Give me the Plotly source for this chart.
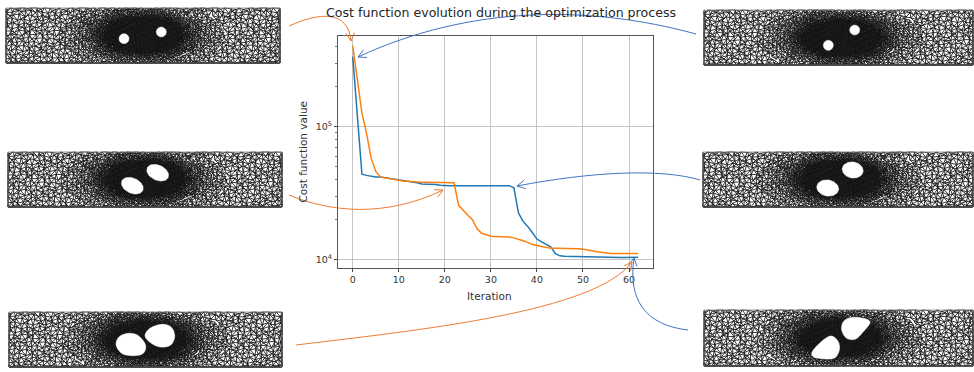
import numpy as np
import plotly.graph_objects as go

iterations = list(range(63))
blue_cost = [335000, 120000, 43900, 43000, 42200, 41900, 41900, 41400, 40900, 40500,
             40000, 39600, 38900, 38500, 37800, 37100, 37100, 36900, 36700, 36300,
             36000, 36000, 36000, 36000, 36000, 36000, 36000, 36000, 36000, 36000,
             36000, 36000, 36000, 36000, 36000, 34700, 22400, 19400, 17800, 16000,
             14300, 13600, 13100, 12500, 11100, 10700, 10630, 10600, 10600, 10600,
             10600, 10550, 10500, 10450, 10450, 10400, 10400, 10400, 10400, 10400,
             10400, 10400, 10450]
orange_cost = [405000, 226000, 126000, 89000, 57900, 46000, 41900, 41200, 40500, 40000,
               39600, 39000, 38700, 38500, 38300, 38200, 38200, 38200, 38200, 38200,
               38200, 38200, 37800, 25600, 23400, 21600, 20000, 17100, 15800, 15300,
               15000, 14950, 14900, 14900, 14800, 14600, 14300, 13900, 13500, 13000,
               12800, 12600, 12300, 12200, 12200, 12200, 12200, 12200, 12200, 12100,
               12000, 11900, 11700, 11500, 11400, 11200, 11150, 11150, 11150, 11150,
               11150, 11150, 11150]
y_tick_vals = [1e4, 1e5]
y_tick_text = ["10<sup>4</sup>", "10<sup>5</sup>"]
y_minor_vals = [2e4, 3e4, 4e4, 5e4, 6e4, 7e4, 8e4, 9e4, 2e5, 3e5, 4e5]
x_tick_vals = [0, 10, 20, 30, 40, 50, 60]

# mesh panels: left, top, right, bottom, density centre x, y
panels = [(6, 8, 280, 63, 143, 35), (8, 152, 282, 207, 145, 179), (9, 312, 282, 367, 146, 340),
          (704, 10, 973, 65, 841, 38), (703, 152, 973, 207, 840, 179), (704, 310, 973, 366, 840, 338)]
# round / elliptical holes: centre x, y, semi axes, angle in degrees
ellipse_holes = [(124, 38.7, 5, 5, 0), (161.3, 32, 5, 5, 0),
                 (132.3, 185.7, 11.5, 7.5, 25), (157.7, 172.7, 11.5, 7.5, 25),
                 (828.3, 45.3, 5, 5, 0), (854.7, 30, 5, 5, 0),
                 (827.7, 188, 11, 8, 10), (852.7, 170, 10.5, 8, 10)]
# free-form holes traced as outlines
outline_holes = [
    ([116, 119.3, 129.3, 138.3, 145.7, 143.3, 133.3, 121.7], [344.3, 336.7, 333.3, 335.7, 345.7, 353.3, 355.7, 353.3]),
    ([145, 150, 163.3, 171.7, 174.7, 170.7, 160, 150], [335.7, 328.3, 324.3, 327.7, 336.7, 345, 347, 342.3]),
    ([811.7, 823.3, 831.7, 838.3, 839.3, 835, 823.3, 813.3], [353.3, 340, 336, 341.7, 350, 357.7, 358.7, 356.7]),
    ([870, 863.3, 855, 846.7, 841.7, 843.3, 850, 863.3], [321.7, 331.7, 339.3, 338.3, 330, 321.7, 317.7, 318.3]),
]
# curved annotations: start, control 1, control 2, end
blue_arrows = [((696, 34), (590, 5), (470, 5), (358, 57)),
               ((700, 180), (660, 168), (590, 172), (517, 186)),
               ((688, 330), (645, 325), (628, 300), (634, 258))]
orange_arrows = [((289, 26), (320, 12), (348, 10), (351, 41)),
                 ((289, 195), (330, 212), (385, 218), (443, 190)),
                 ((296, 345), (420, 330), (595, 312), (632, 262))]
levels = [4.4, 3.4, 2.7, 2.2, 1.8, 1.5, 1.25, 1.05]


def mesh_lines(panel):
    left, top, right, bottom, cx, cy = panel
    xs, ys = [], []
    def density(x, y):
        wide = np.exp(-((x - cx) / 100) ** 2 - ((y - cy) / 42) ** 2)
        core = np.exp(-((x - cx) / 42) ** 2 - ((y - cy) / 22) ** 2)
        return (0.6 + 4.4 * (1 - wide ** 1.6)) * (1 - 0.8 * core)
    for k, s in enumerate(levels):
        low = levels[k + 1] if k + 1 < len(levels) else 0.0
        high = s if k > 0 else 99.0
        nx = int((right - left) / s) + 3
        ny = int((bottom - top) / (s * 0.866)) + 3
        jj, ii = np.mgrid[0:ny, 0:nx]
        def vertex(i, j):
            px = left + (i + 0.5 * (j % 2) - 1) * s
            py = top + j * s * 0.866
            px = px + 0.3 * s * np.sin(1.7 * i + 2.9 * j) + 0.15 * s * np.sin(0.61 * i - 1.3 * j)
            py = py + 0.3 * s * np.sin(2.3 * i - 1.9 * j) + 0.15 * s * np.cos(0.47 * i + 0.9 * j)
            return np.clip(px, left, right), np.clip(py, top, bottom)
        x0, y0 = vertex(ii, jj)
        for di, dj in (((1, 0)), ((jj % 2), 1), ((jj % 2) - 1, 1)):
            x1, y1 = vertex(ii + di, jj + dj)
            h = density((x0 + x1) / 2, (y0 + y1) / 2)
            keep = (h >= low) & (h < high)
            n = keep.sum()
            seg_x = np.full(3 * n, np.nan)
            seg_y = np.full(3 * n, np.nan)
            seg_x[0::3], seg_x[1::3] = x0[keep], x1[keep]
            seg_y[0::3], seg_y[1::3] = y0[keep], y1[keep]
            xs.append(seg_x)
            ys.append(seg_y)
    return np.concatenate(xs).round(2).tolist(), np.concatenate(ys).round(2).tolist()


fig = go.Figure()

fig.add_trace(go.Scatter(x=iterations, y=blue_cost, mode="lines", showlegend=False,
                         line=dict(color="#1f77b4", width=1.5)))
fig.add_trace(go.Scatter(x=iterations, y=orange_cost, mode="lines", showlegend=False,
                         line=dict(color="#ff7f0e", width=1.5)))

for p in panels:
    mx, my = mesh_lines(p)
    mx = [None if v != v else v for v in mx]
    my = [None if v != v else v for v in my]
    fig.add_trace(go.Scatter(x=mx, y=my, mode="lines", xaxis="x2", yaxis="y2", hoverinfo="skip",
                             line=dict(color="#111111", width=0.85), showlegend=False))
    fig.add_trace(go.Scatter(x=[p[0], p[2], p[2], p[0], p[0]], y=[p[1], p[1], p[3], p[3], p[1]],
                             mode="lines", xaxis="x2", yaxis="y2", hoverinfo="skip",
                             line=dict(color="#888888", width=0.8), showlegend=False))

t = np.linspace(0, 2 * np.pi, 49)
for cx, cy, a, b, ang in ellipse_holes:
    r = np.radians(ang)
    hx = cx + a * np.cos(t) * np.cos(r) - b * np.sin(t) * np.sin(r)
    hy = cy + a * np.cos(t) * np.sin(r) + b * np.sin(t) * np.cos(r)
    fig.add_trace(go.Scatter(x=hx.tolist(), y=hy.tolist(), mode="lines", fill="toself", fillcolor="white",
                             xaxis="x2", yaxis="y2", hoverinfo="skip",
                             line=dict(color="white", width=0.5), showlegend=False))
for ox, oy in outline_holes:
    fig.add_trace(go.Scatter(x=ox + ox[:1], y=oy + oy[:1], mode="lines", fill="toself", fillcolor="white",
                             xaxis="x2", yaxis="y2", hoverinfo="skip",
                             line=dict(color="white", width=0.5, shape="spline", smoothing=1), showlegend=False))


def arrow_shape(curve, color):
    (x0, y0), (x1, y1), (x2, y2), (x3, y3) = curve
    ang = np.arctan2(y3 - y2, x3 - x2)
    size, spread = 9, np.radians(28)
    ax = x3 - size * np.cos(ang - spread)
    ay = y3 - size * np.sin(ang - spread)
    bx = x3 - size * np.cos(ang + spread)
    by = y3 - size * np.sin(ang + spread)
    path = (f"M {x0},{y0} C {x1},{y1} {x2},{y2} {x3},{y3} "
            f"M {ax:.2f},{ay:.2f} L {x3},{y3} L {bx:.2f},{by:.2f}")
    return dict(type="path", path=path, xref="x2", yref="y2", layer="above",
                line=dict(color=color, width=1))


shapes = [arrow_shape(c, "#4472c4") for c in blue_arrows] + [arrow_shape(c, "#ed7d31") for c in orange_arrows]

W, H = 974, 372
font = "DejaVu Sans"
fig.update_layout(
    width=W, height=H, margin=dict(l=0, r=0, t=0, b=0), autosize=False,
    paper_bgcolor="white", plot_bgcolor="rgba(0,0,0,0)", showlegend=False,
    font=dict(family=font, size=10, color="#333333"),
    shapes=shapes,
    xaxis=dict(domain=[338 / W, 652.5 / W], range=[-3.2, 65.1], tickmode="array", tickvals=x_tick_vals,
               showgrid=True, gridcolor="#c4c4c4", gridwidth=0.8, zeroline=False,
               showline=True, linecolor="#555555", linewidth=1, mirror=True,
               ticks="outside", ticklen=3, tickcolor="#444444", tickfont=dict(size=9.5)),
    yaxis=dict(domain=[1 - 268 / H, 1 - 35.5 / H], type="log", range=[3.938, 5.684],
               tickmode="array", tickvals=y_tick_vals, ticktext=y_tick_text,
               showgrid=True, gridcolor="#c4c4c4", gridwidth=0.8, zeroline=False,
               showline=True, linecolor="#555555", linewidth=1, mirror=True,
               ticks="outside", ticklen=3, tickcolor="#444444", tickfont=dict(size=9.5),
               minor=dict(tickmode="array", tickvals=y_minor_vals, ticks="outside",
                          ticklen=2, tickcolor="#777777", showgrid=False),
               title=dict(text="Cost function value", font=dict(size=10.5), standoff=6)),
    xaxis2=dict(domain=[0, 1], range=[0, W], visible=False, anchor="y2", fixedrange=True),
    yaxis2=dict(domain=[0, 1], range=[H, 0], visible=False, anchor="x2", fixedrange=True),
    annotations=[dict(text="Cost function evolution during the optimization process",
                      xref="paper", yref="paper", x=500.5 / W, y=1 - 12.5 / H, showarrow=False,
                      xanchor="center", yanchor="middle", font=dict(size=12.6, color="#262626")),
                 dict(text="Iteration", xref="paper", yref="paper", x=490 / W, y=1 - 296 / H,
                      showarrow=False, xanchor="center", yanchor="middle",
                      font=dict(size=10.5, color="#333333"))],
)

fig.write_html("out.html", post_script="document.body.style.margin='0';",
               config=dict(displayModeBar=False))
